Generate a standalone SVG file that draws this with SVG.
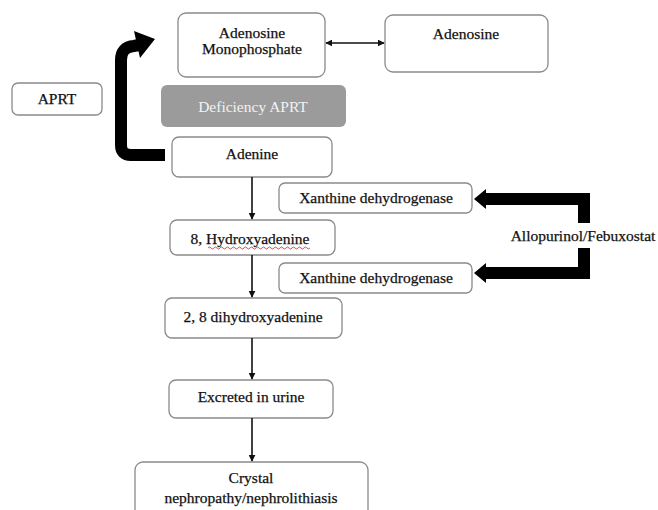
<svg xmlns="http://www.w3.org/2000/svg" width="658" height="510" viewBox="0 0 658 510">
<style>
.box{fill:#fff;stroke:#8a8a8a;stroke-width:1.3}
.t{font-family:"Liberation Serif","Times New Roman",serif;font-size:15.5px;fill:#111;stroke:#111;stroke-width:0.25;text-anchor:middle}
.c{stroke:#111;stroke-width:1.6;fill:none}
.big{stroke:#000;stroke-width:12;fill:none}
</style>
<defs>
<marker id="ah" viewBox="0 0 10 10" refX="9" refY="5" markerWidth="7" markerHeight="7" markerUnits="userSpaceOnUse" orient="auto-start-reverse">
<path d="M0,0 L10,5 L0,10 z" fill="#111"/>
</marker>
</defs>
<rect width="658" height="510" fill="#fff"/>
<g id="amp"><rect class="box" x="178" y="13" width="147" height="64" rx="8"/><text class="t" x="252" y="38">Adenosine</text><text class="t" x="252" y="54">Monophosphate</text></g>
<g id="adenosine"><rect class="box" x="385" y="15" width="163" height="57" rx="8"/><text class="t" x="466" y="39">Adenosine</text></g>
<g id="deficiency"><rect x="161" y="85" width="185" height="42" rx="6" fill="#9b9b9b"/><text class="t" x="253" y="112" style="fill:#f2f2f2;stroke:none">Deficiency APRT</text></g>
<g id="adenine"><rect class="box" x="172" y="137" width="160" height="40" rx="7"/><text class="t" x="252" y="159">Adenine</text></g>
<g id="aprt"><rect class="box" x="12" y="83" width="90" height="32" rx="6"/><text class="t" x="57" y="104">APRT</text></g>
<g id="xdh1"><rect class="box" x="279" y="183" width="193" height="30" rx="6"/><text class="t" x="376" y="203">Xanthine dehydrogenase</text></g>
<g id="hydroxy"><rect class="box" x="170" y="220" width="165" height="35" rx="7"/><text class="t" x="250" y="244">8, Hydroxyadenine</text><path d="M208,248 q1.5,-2 3,0 t3,0 t3,0 t3,0 t3,0 t3,0 t3,0 t3,0 t3,0 t3,0 t3,0 t3,0 t3,0 t3,0 t3,0 t3,0 t3,0 t3,0 t3,0 t3,0 t3,0 t3,0 t3,0 t3,0 t3,0 t3,0 t3,0 t3,0 t3,0 t3,0 t3,0 t3,0 t3,0 t3,0" fill="none" stroke="#d33" stroke-width="0.9"/></g>
<g id="xdh2"><rect class="box" x="279" y="263" width="193" height="30" rx="6"/><text class="t" x="376" y="283">Xanthine dehydrogenase</text></g>
<g id="allo"><text class="t" x="583" y="241">Allopurinol/Febuxostat</text></g>
<g id="dha"><rect class="box" x="165" y="298" width="177" height="40" rx="7"/><text class="t" x="253" y="322">2, 8 dihydroxyadenine</text></g>
<g id="urine"><rect class="box" x="169" y="380" width="164" height="38" rx="7"/><text class="t" x="251" y="402">Excreted in urine</text></g>
<g id="crystal"><rect class="box" x="135" y="462" width="233" height="60" rx="8"/><text class="t" x="251" y="483">Crystal</text><text class="t" x="251" y="503">nephropathy/nephrolithiasis</text></g>
<g id="connectors">
<path class="c" d="M326,43 H384" marker-start="url(#ah)" marker-end="url(#ah)"/>
<path class="c" d="M252,177 V219" marker-end="url(#ah)"/>
<path class="c" d="M252,255 V297" marker-end="url(#ah)"/>
<path class="c" d="M252,338 V379" marker-end="url(#ah)"/>
<path class="c" d="M252,418 V461" marker-end="url(#ah)"/>
<path class="big" d="M165,155 H131 Q121,155 121,145 V60 Q121,47 134,46 L139,45" stroke-width="13"/>
<polygon points="134,31 155,39 140,58" fill="#000"/>
<path class="big" d="M584,223 V199 H484"/>
<polygon points="486,189 474,199 486,209" fill="#000"/>
<path class="big" d="M584,248 V273 H484"/>
<polygon points="486,263 474,273 486,283" fill="#000"/>
</g>
</svg>
